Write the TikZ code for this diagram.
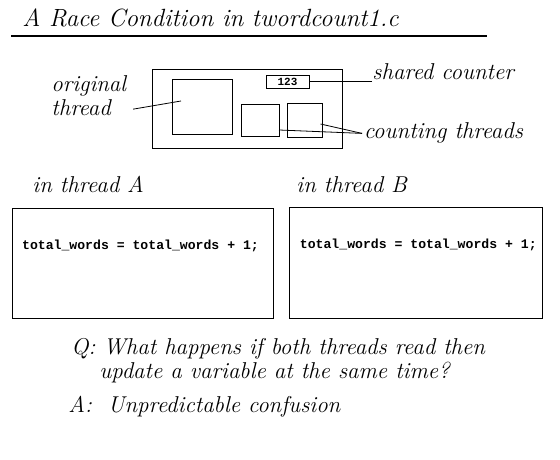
\documentclass[tikz,border=0pt]{standalone}
\usepackage{fontspec}
\setmonofont{Liberation Mono}
\usepackage{tikz}
\usetikzlibrary{positioning}
\newcommand{\handfont}{\itshape\fontsize{23}{27}\selectfont}
\tikzset{
    hand/.style={font=\handfont, inner sep=0pt, anchor=base west},
    box/.style={draw, rectangle, inner sep=0pt, outer sep=0pt, line width=0.8bp},
    code/.style={font=\ttfamily\bfseries\fontsize{13.2}{16}\selectfont, inner sep=0pt},
}
\begin{document}
\begin{tikzpicture}[x=1bp, y=-1bp, line width=0.8bp]
            \path[fill=white, use as bounding box] (0,0) rectangle (560,460);
            \node[hand, font=\itshape\fontsize{25}{30}\selectfont] (title) at (22,27) {A Race Condition in twordcount1.c};
            \draw[line width=2bp] (11,36) -- (487,36);

            \node[box, minimum width=190bp, minimum height=79bp] (main) at (247,108.5) {};
            \node[box, minimum width=60bp, minimum height=55bp] (orig) at (202,106.5) {};
            \node[box, minimum width=43bp, minimum height=13bp,
            font=\ttfamily\bfseries\fontsize{11}{12}\selectfont] (counter) at (287.5,81.5) {123};
            \node[box, minimum width=38bp, minimum height=32bp] (ctA) at (260,120) {};
            \node[box, minimum width=35bp, minimum height=34bp] (ctB) at (304.5,120) {};

            \node[hand] (lblorig) at (51,92) {original};
            \node[hand] (lblthread) at (51,116) {thread};
            \coordinate (origtip) at (181,101);
            \draw ([xshift=22bp,yshift=-1bp]lblthread.east) -- (origtip);

            \node[hand] (lblshared) at (372,80) {shared counter};
            \draw (counter.east) -- (counter.east -| lblshared.west);
            \draw (counter.east -| lblshared.west) -- ++(-4,0);

            \node[hand, outer sep=2bp] (lblcount) at (362,139) {counting threads};
            \draw (lblcount.west) -- ([yshift=6bp]ctA.south east);
            \draw (lblcount.west) -- ([xshift=-1.5bp,yshift=-4bp]ctB.east);

            \node[hand] (lblA) at (32,192.5) {in thread A};
            \node[hand] (lblB) at (296,192.5) {in thread B};
            \node[box, minimum width=261bp, minimum height=110bp] (boxA) at (142.5,263) {};
            \node[box, minimum width=253bp, minimum height=111bp] (boxB) at (415.5,262.5) {};
            \node[code] (codeA) at (140.5,246) {total\_words = total\_words + 1;};
            \node[code] (codeB) at (418.3,245) {total\_words = total\_words + 1;};

            \node[hand] (question) at (71,354) {Q: What happens if both threads read then};
            \node[hand] (question2) at (99,378) {update a variable at the same time?};
            \node[hand] (answer) at (68,412) {A:\ \ Unpredictable confusion};
\end{tikzpicture}
\end{document}
